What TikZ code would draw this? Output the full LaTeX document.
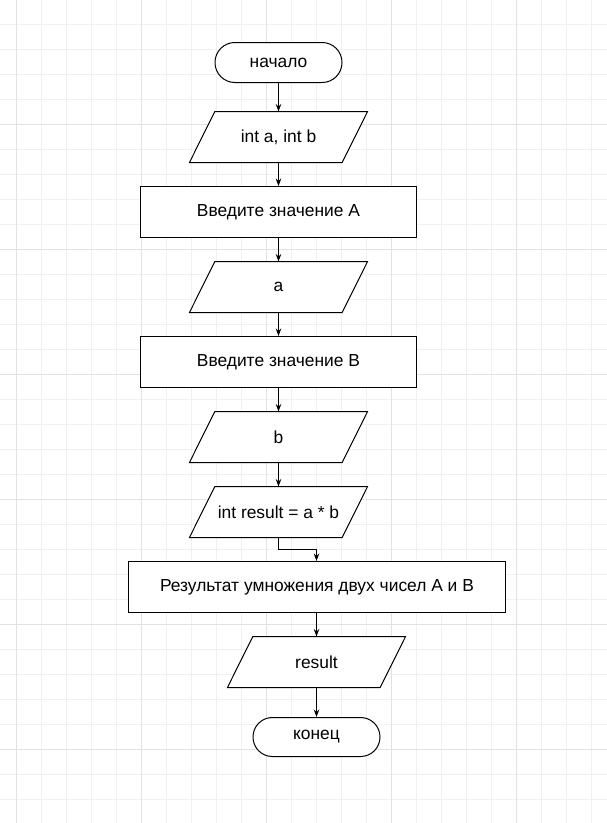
\documentclass[tikz,border=0pt]{standalone}
\usepackage{fontspec}
\setmainfont{Liberation Sans}
\usetikzlibrary{arrows.meta}
\pgfdeclarelayer{gridlayer}
\pgfdeclarelayer{shapelayer}
\pgfsetlayers{gridlayer,shapelayer,main}
\begin{document}
\begin{tikzpicture}[x=1pt,y=-1pt,
  minorline/.style={draw={rgb,255:red,240;green,240;blue,240}, line width=1pt},
  majorline/.style={draw={rgb,255:red,226;green,226;blue,226}, line width=1pt},
  base/.style={draw=black, fill=white, line width=1pt, font=\fontsize{17.4}{20}\selectfont, inner sep=0pt, align=center},
  term/.style={base, rectangle, rounded corners=19.9pt, minimum width=127pt, minimum height=40pt},
  proc/.style={base, rectangle, minimum width=276pt, minimum height=51pt},
  io/.style={font=\fontsize{17.4}{20}\selectfont, inner sep=0pt, outer sep=0pt, align=center,
    rectangle, minimum width=152.7pt, minimum height=51pt},
  ioshape/.style={draw=black, fill=white, line width=1pt},
  arr/.style={-{Stealth[length=7.5pt,width=5.5pt]}, line width=1pt}]
\useasboundingbox (0,0) rectangle (607,823);
\begin{pgfonlayer}{gridlayer}
\fill[white] (0,0) rectangle (607,823);
\foreach \i in {0,...,23} \draw[minorline] ({16.5+25*\i},0) -- ++(0,823);
\foreach \j in {1,...,32} \draw[minorline] (0,{25*\j-0.5}) -- ++(607,0);
\foreach \i in {0,...,4} \draw[majorline] ({16.5+125*\i},0) -- ++(0,823);
\foreach \j in {1,...,6} \draw[majorline] (0,{125*\j-0.5}) -- ++(607,0);
\end{pgfonlayer}
% nodes
\node[term] (t1) at (278.5,62.5) {начало};
\node[io] (p1) at (278.5,137) {int a, int b};
\node[proc] (r1) at (278.5,212) {Введите значение A};
\node[io] (p2) at (278.5,287) {a};
\node[proc] (r2) at (278.5,362) {Введите значение B};
\node[io] (p3) at (278.5,437) {b};
\node[io] (p4) at (278.5,512) {int result = a * b};
\node[proc, minimum width=377pt] (r3) at (317,587) {Результат умножения двух чисел A и B};
\node[io] (p5) at (316.5,662) {result};
\node[term, minimum height=39pt, rounded corners=19.4pt] (t2) at (316.5,737) {конец};
\coordinate (k) at (278.5,549.5);
% parallelogram outlines of the io nodes
\begin{pgfonlayer}{shapelayer}
\foreach \n in {p1,p2,p3,p4,p5}
  \filldraw[ioshape] ([xshift=-12.7pt]\n.south west) -- ([xshift=12.7pt]\n.north west)
    -- ([xshift=12.7pt]\n.north east) -- ([xshift=-12.7pt]\n.south east) -- cycle;
\end{pgfonlayer}
% connectors
\draw[arr] (t1) -- (p1);
\draw[arr] (p1) -- (r1);
\draw[arr] (r1) -- (p2);
\draw[arr] (p2) -- (r2);
\draw[arr] (r2) -- (p3);
\draw[arr] (p3) -- (p4);
\draw[arr] (p4) -- (k) -| (r3.north -| p5);
\draw[arr] (r3.south -| p5) -- (p5);
\draw[arr] (p5) -- (t2);
\end{tikzpicture}
\end{document}
